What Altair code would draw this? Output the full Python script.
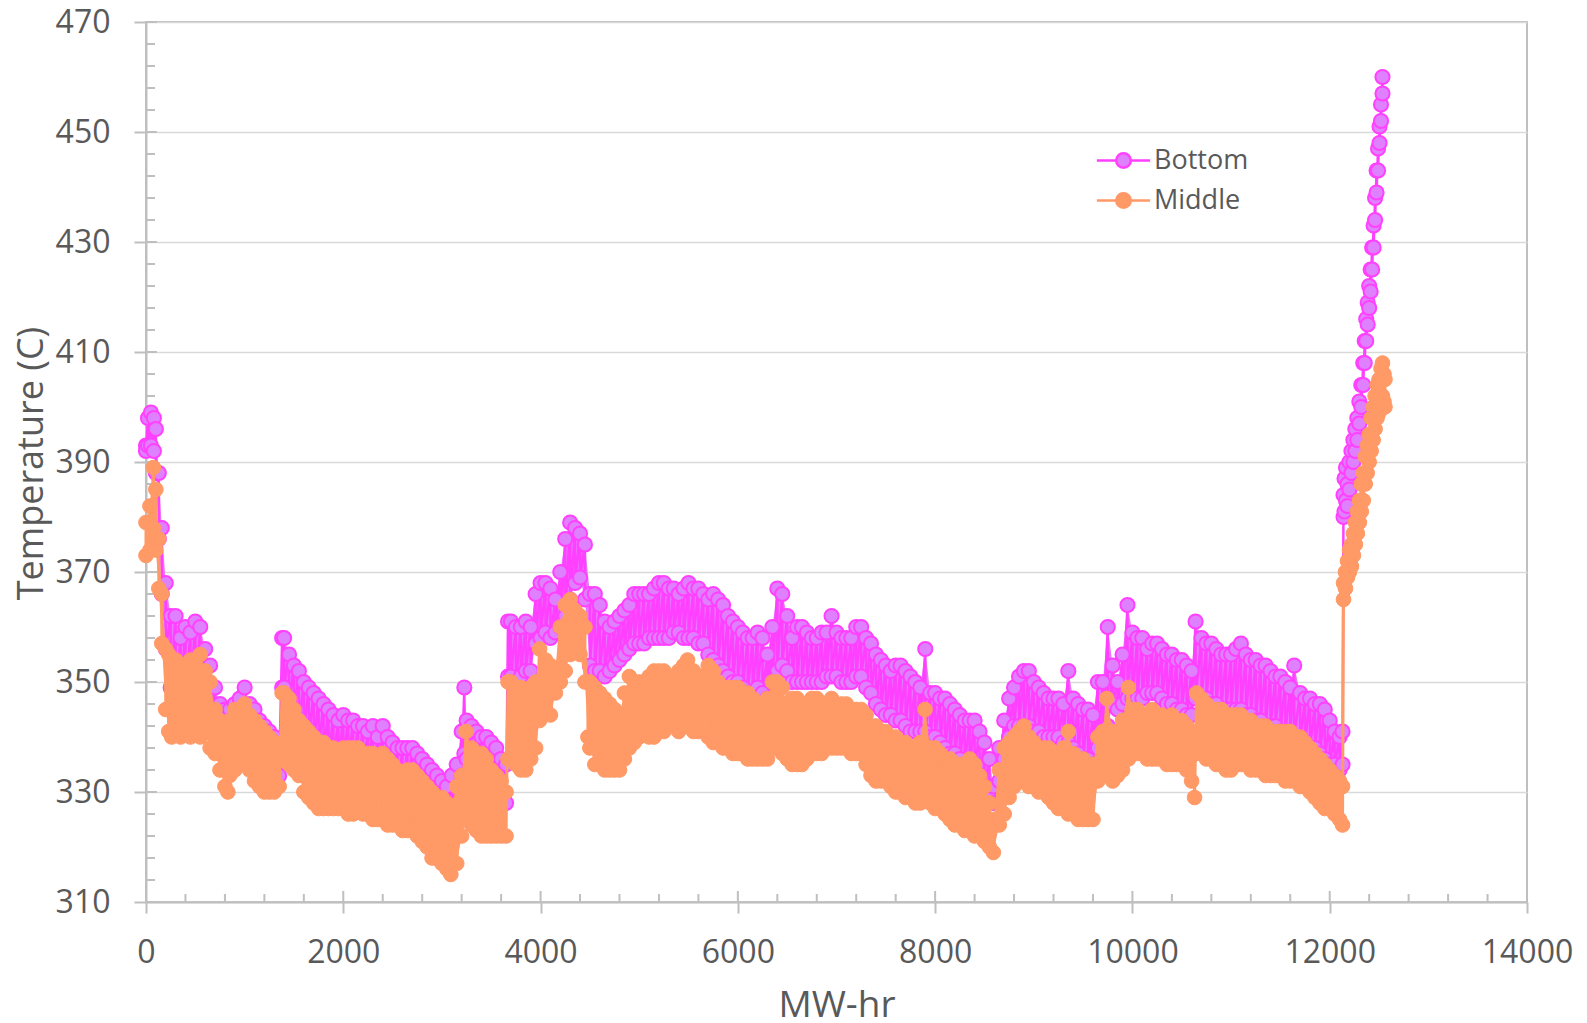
import altair as alt
import pandas as pd

# Daily swing band of each thermocouple: (MW-hr, high reading, low reading)
bottom_rows_a = [
    (0, 393, 392), (20, 398, 393), (50, 399, 393), (80, 398, 392), (100, 396, 388),
    (130, 388, 376), (160, 378, 366), (200, 368, 356), (250, 362, 349), (300, 362, 346),
    (350, 358, 346), (400, 360, 345), (450, 359, 346), (500, 361, 346), (550, 360, 345),
    (600, 356, 344), (650, 353, 342), (700, 349, 340), (750, 346, 339), (800, 345, 338),
    (850, 345, 337), (900, 346, 338), (950, 347, 339), (1000, 349, 340), (1050, 346, 339),
    (1100, 345, 338), (1150, 343, 337), (1200, 342, 336), (1250, 341, 335), (1300, 340, 334),
    (1350, 338, 333), (1380, 358, 349), (1400, 358, 349), (1450, 355, 346), (1500, 353, 344),
    (1550, 352, 342), (1600, 350, 341), (1650, 349, 340), (1700, 348, 339), (1750, 347, 338),
    (1800, 346, 337), (1850, 345, 336), (1900, 344, 336), (1950, 343, 335), (2000, 344, 336),
    (2050, 343, 335), (2100, 343, 335), (2150, 342, 334), (2200, 342, 334), (2250, 341, 333),
    (2300, 342, 333), (2350, 340, 332), (2400, 342, 333), (2450, 340, 332), (2500, 339, 331),
    (2550, 338, 330), (2600, 338, 330), (2650, 338, 329), (2700, 338, 329), (2750, 337, 328),
    (2800, 336, 328), (2850, 335, 327), (2900, 334, 326), (2950, 333, 325), (3000, 332, 324),
    (3050, 331, 323), (3100, 333, 325), (3150, 335, 328), (3200, 341, 333), (3227, 349, 337),
    (3250, 343, 336), (3300, 342, 335), (3350, 341, 334), (3400, 340, 333), (3450, 340, 332),
    (3500, 339, 331), (3550, 338, 330), (3600, 336, 329), (3650, 335, 328),
]
bottom_rows_b = [
    (3670, 361, 351), (3700, 361, 351), (3750, 360, 350), (3800, 360, 351), (3850, 361, 352),
    (3900, 360, 352), (3950, 366, 357), (4000, 368, 358), (4050, 368, 359), (4100, 367, 358),
    (4150, 365, 359), (4200, 370, 360), (4250, 376, 362), (4300, 379, 365), (4350, 378, 368),
    (4400, 377, 369), (4450, 375, 365), (4500, 366, 353), (4550, 366, 352), (4600, 364, 352),
    (4650, 361, 351), (4700, 360, 352), (4750, 361, 353), (4800, 362, 354), (4850, 363, 355),
    (4900, 364, 356), (4950, 366, 357), (5000, 366, 357), (5050, 366, 357), (5100, 366, 358),
    (5150, 367, 358), (5200, 368, 358), (5250, 368, 358), (5300, 367, 358), (5350, 367, 359),
    (5400, 366, 359), (5450, 367, 358), (5500, 368, 358), (5550, 367, 358), (5600, 367, 357),
    (5650, 366, 357), (5700, 365, 355), (5750, 366, 354), (5800, 365, 353), (5850, 364, 352),
    (5900, 362, 351), (5950, 361, 350), (6000, 360, 350), (6050, 359, 349), (6100, 358, 348),
    (6150, 358, 348), (6200, 359, 349), (6250, 358, 348), (6300, 355, 347), (6350, 360, 350),
    (6400, 367, 352), (6450, 366, 353), (6500, 362, 352), (6550, 358, 350), (6600, 360, 350),
    (6650, 360, 350), (6700, 359, 350), (6750, 358, 350), (6800, 358, 350), (6850, 359, 350),
    (6900, 359, 351), (6950, 362, 351), (7000, 359, 351), (7050, 358, 350), (7100, 358, 350),
    (7150, 358, 350), (7200, 360, 351), (7250, 360, 351), (7300, 358, 349), (7350, 357, 348),
    (7400, 355, 346), (7450, 354, 345), (7500, 353, 344), (7550, 352, 344), (7600, 353, 343),
    (7650, 353, 343), (7700, 352, 342), (7750, 351, 341), (7800, 350, 341), (7850, 349, 341),
    (7900, 356, 341), (7950, 348, 340), (8000, 348, 340),
]
bottom_rows_c = [
    (8050, 347, 339), (8100, 347, 338), (8150, 346, 337), (8200, 345, 337), (8250, 344, 336),
    (8300, 343, 335), (8350, 343, 335), (8400, 343, 334), (8450, 341, 333), (8500, 339, 331),
    (8550, 336, 329), (8590, 331, 328), (8650, 338, 332), (8700, 343, 336), (8750, 347, 340),
    (8800, 349, 342), (8850, 351, 342), (8900, 352, 342), (8950, 352, 342), (9000, 350, 341),
    (9050, 349, 341), (9100, 348, 340), (9150, 347, 340), (9200, 347, 340), (9250, 347, 340),
    (9300, 346, 339), (9350, 352, 339), (9400, 347, 338), (9450, 346, 337), (9500, 345, 336),
    (9550, 345, 336), (9600, 344, 335), (9650, 350, 338), (9700, 350, 340), (9750, 360, 342),
    (9800, 353, 346), (9850, 350, 345), (9900, 355, 346), (9950, 364, 347), (10000, 359, 347),
    (10050, 358, 347), (10100, 358, 347), (10150, 356, 348), (10200, 357, 348), (10250, 357, 348),
    (10300, 356, 347), (10350, 355, 346), (10400, 355, 346), (10450, 354, 345), (10500, 354, 345),
    (10550, 353, 344), (10600, 352, 344), (10640, 361, 347), (10700, 358, 347), (10750, 357, 347),
    (10800, 357, 346), (10850, 356, 346), (10900, 355, 345), (10950, 355, 345), (11000, 355, 345),
    (11050, 356, 345), (11100, 357, 345), (11150, 355, 344), (11200, 354, 344), (11250, 354, 343),
    (11300, 353, 343), (11350, 353, 342), (11400, 352, 342), (11450, 351, 342), (11500, 351, 341),
    (11550, 350, 341), (11600, 349, 340), (11640, 353, 340), (11700, 348, 339), (11750, 347, 339),
    (11800, 347, 338), (11850, 346, 338), (11900, 346, 337), (11950, 345, 336), (12000, 343, 335),
    (12050, 341, 335), (12100, 340, 334), (12130, 341, 335),
]
bottom_rows_d = [
    (12140, 384, 380), (12150, 387, 381), (12165, 389, 383), (12180, 386, 382), (12200, 390, 385),
    (12220, 392, 388), (12240, 394, 390), (12260, 396, 392), (12280, 398, 394), (12300, 401, 397),
    (12320, 404, 400), (12340, 408, 404), (12355, 412, 408), (12370, 416, 412), (12385, 419, 415),
    (12400, 422, 418), (12415, 425, 421), (12430, 429, 425), (12445, 433, 429), (12460, 438, 434),
    (12475, 443, 439), (12490, 447, 443), (12505, 451, 448), (12520, 455, 452), (12535, 460, 457),
]

middle_rows_a = [
    (0, 379, 373), (40, 382, 374), (75, 389, 378), (100, 385, 374), (130, 376, 367),
    (160, 366, 357), (200, 356, 345), (230, 355, 341), (260, 354, 340), (300, 354, 342),
    (350, 353, 340), (400, 352, 341), (450, 354, 340), (500, 354, 341), (550, 355, 340),
    (600, 352, 341), (650, 350, 338), (700, 345, 337), (750, 343, 334), (800, 341, 331),
    (830, 340, 330), (850, 343, 333), (900, 345, 334), (950, 345, 335), (1000, 346, 335),
    (1050, 344, 334), (1100, 343, 332), (1150, 342, 331), (1200, 341, 330), (1250, 340, 330),
    (1300, 339, 330), (1350, 337, 331), (1380, 348, 336), (1400, 348, 336), (1450, 347, 335),
    (1500, 345, 334), (1550, 343, 333), (1600, 342, 330), (1650, 341, 329), (1700, 340, 328),
    (1750, 339, 327), (1800, 339, 327), (1850, 338, 327), (1900, 338, 327), (1950, 337, 327),
    (2000, 338, 327), (2050, 338, 326), (2100, 338, 326), (2150, 338, 327), (2200, 337, 326),
    (2250, 337, 326), (2300, 337, 325), (2350, 336, 325), (2400, 337, 325), (2450, 336, 324),
    (2500, 335, 324), (2550, 334, 324), (2600, 333, 323), (2650, 334, 323), (2700, 334, 323),
    (2750, 333, 322), (2800, 332, 321), (2850, 331, 320), (2900, 330, 318), (2950, 329, 318),
    (3000, 329, 317), (3050, 328, 316), (3090, 327, 315), (3150, 331, 317), (3200, 333, 322),
    (3244, 341, 325), (3300, 338, 324), (3350, 337, 323), (3400, 337, 322), (3450, 336, 322),
    (3500, 334, 322), (3550, 333, 322), (3600, 332, 322), (3650, 330, 322),
]
middle_rows_b = [
    (3670, 350, 336), (3700, 350, 336), (3750, 349, 335), (3800, 349, 334), (3850, 348, 334),
    (3900, 349, 336), (3950, 350, 338), (3990, 356, 343), (4050, 354, 345), (4100, 353, 344),
    (4150, 352, 348), (4200, 360, 350), (4250, 364, 352), (4300, 365, 355), (4350, 363, 356),
    (4400, 362, 355), (4450, 360, 350), (4480, 350, 340), (4500, 350, 338), (4550, 349, 335),
    (4600, 348, 335), (4650, 347, 334), (4700, 346, 334), (4750, 345, 334), (4800, 344, 334),
    (4850, 348, 336), (4900, 351, 338), (4950, 350, 339), (5000, 350, 340), (5050, 350, 341),
    (5100, 351, 340), (5150, 352, 340), (5200, 352, 341), (5250, 352, 341), (5300, 351, 342),
    (5350, 351, 342), (5400, 352, 341), (5450, 353, 342), (5490, 354, 342), (5550, 352, 341),
    (5600, 351, 341), (5650, 351, 341), (5700, 353, 340), (5750, 352, 339), (5800, 350, 339),
    (5850, 349, 338), (5900, 349, 338), (5950, 349, 337), (6000, 349, 337), (6050, 348, 337),
    (6100, 348, 336), (6150, 347, 336), (6200, 346, 336), (6250, 346, 336), (6300, 347, 336),
    (6350, 350, 338), (6400, 350, 338), (6450, 349, 337), (6500, 346, 336), (6550, 347, 335),
    (6600, 347, 335), (6650, 346, 335), (6700, 345, 336), (6750, 347, 337), (6800, 347, 337),
    (6850, 346, 337), (6900, 346, 338), (6950, 347, 338), (7000, 345, 338), (7050, 346, 338),
    (7100, 346, 338), (7150, 345, 337), (7200, 345, 337), (7250, 345, 337), (7300, 344, 335),
    (7350, 342, 333), (7400, 342, 332), (7450, 341, 332), (7500, 341, 332), (7550, 340, 331),
    (7600, 340, 330), (7650, 339, 330), (7700, 339, 329), (7750, 338, 329), (7800, 338, 328),
    (7850, 339, 328), (7897, 345, 329), (7950, 338, 328), (8000, 338, 327),
]
middle_rows_c = [
    (8050, 337, 327), (8100, 336, 326), (8150, 336, 325), (8200, 335, 324), (8250, 335, 324),
    (8300, 335, 323), (8350, 336, 323), (8400, 335, 322), (8450, 333, 322), (8500, 331, 321),
    (8550, 328, 320), (8590, 325, 319), (8650, 334, 324), (8700, 338, 326), (8750, 339, 329),
    (8800, 340, 331), (8850, 341, 332), (8900, 342, 332), (8950, 340, 331), (9000, 339, 331),
    (9050, 338, 330), (9100, 338, 330), (9150, 338, 329), (9200, 337, 328), (9250, 337, 327),
    (9300, 338, 327), (9350, 341, 326), (9400, 337, 326), (9450, 336, 325), (9500, 336, 325),
    (9550, 335, 325), (9600, 335, 325), (9650, 340, 332), (9700, 341, 333), (9740, 347, 333),
    (9800, 341, 332), (9850, 341, 333), (9900, 343, 334), (9960, 349, 336), (10000, 345, 337),
    (10050, 345, 337), (10100, 344, 337), (10150, 344, 336), (10200, 345, 336), (10250, 344, 336),
    (10300, 344, 336), (10350, 343, 335), (10400, 344, 335), (10450, 343, 335), (10500, 343, 335),
    (10550, 342, 334), (10600, 341, 332), (10630, 340, 329), (10650, 348, 337), (10700, 347, 337),
    (10750, 346, 336), (10800, 345, 336), (10850, 345, 335), (10900, 345, 335), (10950, 344, 334),
    (11000, 344, 334), (11050, 344, 335), (11100, 344, 335), (11150, 343, 335), (11200, 343, 334),
    (11250, 342, 334), (11300, 342, 334), (11350, 342, 333), (11400, 341, 333), (11450, 341, 333),
    (11500, 341, 333), (11550, 341, 332), (11600, 341, 332), (11650, 340, 332), (11700, 340, 331),
    (11750, 339, 331), (11800, 338, 330), (11850, 337, 329), (11900, 336, 328), (11950, 335, 327),
    (12000, 334, 327), (12050, 333, 326), (12100, 332, 325), (12130, 331, 324),
]
middle_rows_d = [
    (12140, 368, 365), (12160, 370, 367), (12180, 372, 369), (12200, 374, 370), (12220, 375, 371),
    (12240, 377, 373), (12260, 379, 375), (12280, 381, 377), (12300, 383, 379), (12320, 386, 381),
    (12340, 388, 383), (12360, 391, 386), (12380, 393, 388), (12400, 395, 390), (12420, 398, 392),
    (12440, 400, 394), (12460, 402, 396), (12480, 404, 398), (12500, 405, 399), (12520, 407, 401),
    (12535, 408, 402), (12550, 406, 401), (12560, 405, 400),
]

series_names = ["Bottom", "Middle"]
fill_colors = ["#df80ff", "#ff9966"]
stroke_colors = ["#ff40ff", "#ff9966"]

x_major = [0, 2000, 4000, 6000, 8000, 10000, 12000, 14000]
x_minor = [400, 800, 1200, 1600, 2400, 2800, 3200, 3600, 4400, 4800, 5200, 5600,
           6400, 6800, 7200, 7600, 8400, 8800, 9200, 9600, 10400, 10800, 11200, 11600,
           12400, 12800, 13200, 13600]
y_major = [310, 330, 350, 370, 390, 410, 430, 450, 470]
y_minor = [314, 318, 322, 326, 334, 338, 342, 346, 354, 358, 362, 366, 374, 378, 382, 386,
           394, 398, 402, 406, 414, 418, 422, 426, 434, 438, 442, 446, 454, 458, 462, 466]

TEXT = "#595959"
AXIS = "#bfbfbf"
FONT = "Open Sans"
W, H = 1381, 880


def band_rows(rows):
    return pd.DataFrame(rows, columns=["mwh", "hi", "lo"])


def band_points(rows, name):
    recs = []
    for mwh, hi, lo in rows:
        recs.append({"mwh": mwh, "temp": hi, "series": name})
        recs.append({"mwh": mwh, "temp": lo, "series": name})
    df = pd.DataFrame(recs)
    df["seq"] = range(len(df))
    return df


bottom_all = bottom_rows_a + bottom_rows_b + bottom_rows_c + bottom_rows_d
middle_all = middle_rows_a + middle_rows_b + middle_rows_c + middle_rows_d
bottom_df = band_points(bottom_all, "Bottom")
middle_df = band_points(middle_all, "Middle")
# the continuous stretches (before the final climb) are drawn as a dense swing band
bottom_band = band_rows(bottom_rows_a + bottom_rows_b + bottom_rows_c)
middle_band = band_rows(middle_rows_a + middle_rows_b + middle_rows_c)

x_scale = alt.Scale(domain=[0, 14000], nice=False, zero=False)
y_scale = alt.Scale(domain=[310, 470], nice=False, zero=False)

x_axis = alt.Axis(
    values=x_major, format="d", title="MW-hr", grid=False,
    tickSize=11, tickColor=AXIS, tickWidth=2, domainColor=AXIS, domainWidth=2,
    labelFont=FONT, labelFontSize=32, labelColor=TEXT, labelPadding=24,
    labelFlush=False, labelOverlap=False,
    titleFont=FONT, titleFontSize=37, titleColor=TEXT, titleFontWeight="normal",
    titleX=W / 2, titleY=114, titleBaseline="alphabetic", titleAlign="center",
)
y_axis = alt.Axis(
    values=y_major, format="d", title="Temperature (C)", grid=True,
    gridColor="#d9d9d9", gridWidth=1.5,
    tickSize=12, tickColor=AXIS, tickWidth=2, domainColor=AXIS, domainWidth=2,
    labelFont=FONT, labelFontSize=32, labelColor=TEXT, labelPadding=24,
    labelFlush=False, labelOverlap=False,
    titleFont=FONT, titleFontSize=36, titleColor=TEXT, titleFontWeight="normal",
    titleAngle=270, titleX=-104, titleY=441, titleBaseline="alphabetic", titleAlign="center",
)


def X(field="mwh"):
    return alt.X(f"{field}:Q", scale=x_scale, axis=x_axis)


def Y(field="temp"):
    return alt.Y(f"{field}:Q", scale=y_scale, axis=y_axis)


# legend symbol: a short line with a circle in the middle
legend_path = ("M-1.9,0L-0.52,0M0.52,0L1.9,0"
               "M-0.52,0A0.52,0.52,0,1,0,0.52,0A0.52,0.52,0,1,0,-0.52,0Z")
legend = alt.Legend(
    orient="none", legendX=962, legendY=123, title=None, padding=0,
    symbolType=legend_path, symbolSize=784, symbolStrokeWidth=2.5,
    labelFont=FONT, labelFontSize=27, labelColor=TEXT, labelOffset=15,
    rowPadding=11, labelLimit=300,
)
fill_enc = alt.Fill("series:N", scale=alt.Scale(domain=series_names, range=fill_colors), legend=legend)
stroke_enc = alt.Stroke("series:N", scale=alt.Scale(domain=series_names, range=stroke_colors), legend=legend)

# tick marks on the inner side of both axes
ytick_major = pd.DataFrame({"t": y_major})
ytick_minor = pd.DataFrame({"t": y_minor})
xtick_major = pd.DataFrame({"t": x_major})
xtick_minor = pd.DataFrame({"t": x_minor})

y_in_major = alt.Chart(ytick_major).mark_rule(color=AXIS, strokeWidth=2).encode(
    y=Y("t"), x=alt.value(0), x2=alt.value(11))
y_in_minor = alt.Chart(ytick_minor).mark_rule(color=AXIS, strokeWidth=2).encode(
    y=Y("t"), x=alt.value(0), x2=alt.value(9))
x_in_major = alt.Chart(xtick_major).mark_rule(color=AXIS, strokeWidth=2).encode(
    x=X("t"), y=alt.value(H), y2=alt.value(H - 11))
x_in_minor = alt.Chart(xtick_minor).mark_rule(color=AXIS, strokeWidth=2).encode(
    x=X("t"), y=alt.value(H), y2=alt.value(H - 8))

bottom_fill = alt.Chart(bottom_band).mark_area(color="#e878ff", opacity=1).encode(
    x=X(), y=Y("lo"), y2="hi:Q")
bottom_line = alt.Chart(bottom_df).mark_line(color="#ff40ff", strokeWidth=2.5).encode(
    x=X(), y=Y(), order="seq:Q")
bottom_pts = alt.Chart(bottom_df).mark_point(
    shape="circle", filled=True, size=200, strokeWidth=2, opacity=1).encode(
    x=X(), y=Y(), fill=fill_enc, stroke=stroke_enc)
middle_fill = alt.Chart(middle_band).mark_area(color="#ff9966", opacity=1).encode(
    x=X(), y=Y("lo"), y2="hi:Q")
middle_line = alt.Chart(middle_df).mark_line(color="#ff9966", strokeWidth=3).encode(
    x=X(), y=Y(), order="seq:Q")
middle_pts = alt.Chart(middle_df).mark_point(
    shape="circle", filled=True, size=215, strokeWidth=1, opacity=1).encode(
    x=X(), y=Y(), fill=fill_enc, stroke=stroke_enc)

chart = alt.layer(
    y_in_major, y_in_minor, x_in_major, x_in_minor,
    bottom_fill, bottom_line, bottom_pts, middle_fill, middle_line, middle_pts,
).properties(
    width=W, height=H,
    autosize=alt.AutoSizeParams(type="none"),
    padding={"left": 146, "top": 22, "right": 60, "bottom": 121},
    background="white",
).configure_view(
    stroke=AXIS, strokeWidth=2,
)

chart.save("out.html", embed_options={"renderer": "svg", "actions": False})
